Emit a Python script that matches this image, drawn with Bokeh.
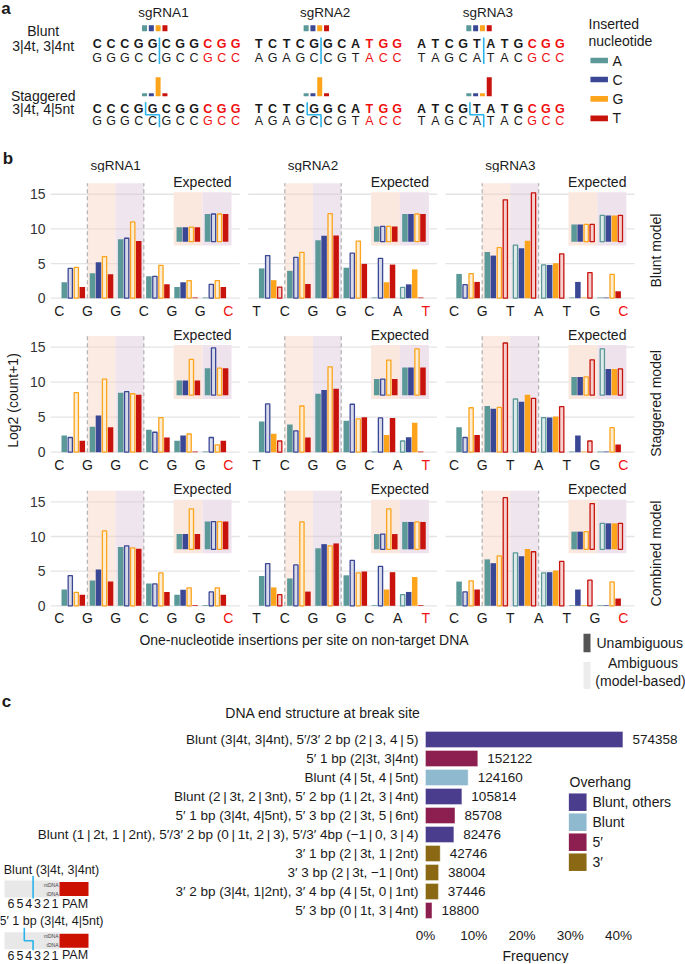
import math
from bokeh.plotting import figure
from bokeh.models import ColumnDataSource, Range1d, FixedTicker
from bokeh.layouts import column
from bokeh.core.properties import value
from bokeh.embed import file_html
from bokeh.resources import INLINE

# ======================= DATA =======================
nucleotides = ["A", "C", "G", "T"]
sgrna_names = ["sgRNA1", "sgRNA2", "sgRNA3"]

# ---- panel a ----
target_top = ["CCCGGCGGCGG", "TCTCGGCATGG", "ATCGTATGCGG"]
target_bottom = ["GGGCCGCCGCC", "AGAGCCGTACC", "TAGCATACGCC"]
pam_length = 3
cut_models = ["Blunt", "Staggered"]
cut_model_sub = ["3|4t, 3|4nt", "3|4t, 4|5nt"]
cut_after_top = [5, 4]       # nt of non-target strand left of the cut
cut_after_bottom = [5, 5]    # nt of target strand left of the cut
blunt_inserted = [[0.25, 0.25, 0.25, 0.25],
                  [0.25, 0.25, 0.25, 0.25],
                  [0.25, 0.25, 0.25, 0.25]]
staggered_inserted = [[0.12, 0.12, 0.79, 0.12],
                      [0.12, 0.12, 0.79, 0.12],
                      [0.12, 0.12, 0.12, 0.79]]

# ---- panel b ----
site_letters = ["CGGCGGC", "TCGGCAT", "CGTATGC"]
model_names = ["Blunt model", "Staggered model", "Combined model"]
# log2(count+1) per [sgRNA][site][A,C,G,T]
blunt_log2 = [
    [[2.3, 4.3, 4.45, 1.6], [3.6, 5.2, 6.0, 3.45], [8.5, 8.65, 11.0, 8.25],
     [3.15, 3.15, 4.75, 2.0], [1.6, 2.3, 2.55, 0.1], [0.1, 2.0, 2.55, 1.6]],
    [[4.3, 6.15, 2.6, 1.6], [3.95, 5.9, 6.6, 2.05], [8.35, 9.0, 12.2, 9.05],
     [4.4, 6.5, 8.25, 4.95], [0.1, 5.75, 2.3, 4.85], [1.55, 2.0, 4.15, 0.1]],
    [[3.5, 1.95, 3.55, 2.35], [6.65, 6.15, 7.3, 14.2], [7.65, 7.2, 8.3, 15.2],
     [4.8, 4.8, 5.05, 6.4], [0.1, 2.35, 0.1, 3.7], [0.1, 0.1, 3.45, 1.0]],
]
staggered_log2 = [
    [[2.4, 2.1, 8.5, 1.65], [3.65, 5.25, 10.45, 3.55], [8.5, 8.65, 8.35, 8.2],
     [3.2, 2.85, 4.95, 2.1], [1.65, 2.4, 2.6, 0.1], [0.1, 2.1, 1.05, 1.65]],
    [[4.4, 6.9, 2.65, 1.6], [3.95, 3.05, 6.6, 2.1], [8.35, 8.9, 12.2, 9.05],
     [4.5, 6.85, 4.75, 5.0], [0.1, 4.9, 2.45, 4.9], [1.6, 2.15, 4.2, 0.1]],
    [[3.55, 2.1, 6.35, 2.45], [6.6, 6.2, 6.4, 15.6], [7.6, 7.2, 8.2, 7.7],
     [4.95, 4.95, 5.1, 6.5], [0.1, 2.4, 0.1, 1.6], [0.1, 0.1, 3.5, 1.1]],
]
combined_log2 = [
    [[2.35, 4.35, 1.95, 1.6], [3.65, 5.25, 10.8, 3.5], [8.5, 8.65, 8.35, 8.25],
     [3.2, 3.15, 4.75, 2.0], [1.6, 2.3, 2.6, 0.1], [0.1, 2.0, 2.6, 1.6]],
    [[4.3, 6.1, 2.65, 1.6], [3.95, 5.9, 12.1, 2.05], [8.3, 8.9, 8.65, 9.0],
     [4.4, 6.55, 4.75, 4.95], [0.1, 5.7, 2.35, 4.85], [1.6, 2.0, 4.15, 0.1]],
    [[3.5, 2.0, 3.6, 2.35], [6.7, 6.15, 7.2, 15.6], [7.65, 7.15, 8.2, 7.8],
     [4.75, 4.85, 5.1, 6.4], [0.1, 2.35, 0.1, 3.7], [0.1, 0.1, 3.45, 1.05]],
]
# 1 = ambiguous (model-based), 0 = unambiguous
ambiguous = [
    [[0, 1, 1, 0], [0, 0, 1, 0], [0, 1, 1, 0], [0, 1, 1, 0], [0, 0, 1, 0], [0, 1, 1, 0]],
    [[0, 1, 0, 1], [0, 1, 1, 0], [0, 0, 1, 0], [0, 1, 1, 0], [0, 1, 0, 0], [1, 0, 0, 0]],
    [[0, 1, 1, 0], [0, 0, 1, 1], [1, 0, 0, 1], [1, 0, 0, 1], [0, 0, 0, 1], [0, 0, 1, 0]],
]
expected_sites = [1, 2]   # the two shaded sites shown in the "Expected" insets
# expected bar heights per [sgRNA][shaded site][A,C,G,T]
expected_blunt = [
    [[2.1, 2.1, 2.1, 2.1], [4.0, 4.0, 4.0, 4.0]],
    [[2.2, 2.2, 2.2, 2.2], [4.0, 4.0, 4.0, 4.0]],
    [[2.5, 2.5, 2.5, 2.5], [3.8, 3.8, 3.8, 3.8]],
]
expected_staggered = [
    [[2.1, 2.1, 5.1, 2.1], [3.85, 6.75, 3.85, 3.85]],
    [[2.3, 2.3, 5.0, 2.3], [3.95, 3.95, 6.6, 3.95]],
    [[2.6, 2.6, 2.6, 5.05], [6.6, 3.75, 3.75, 3.75]],
]
expected_combined = [
    [[2.2, 2.2, 5.85, 2.2], [4.0, 4.0, 4.0, 4.0]],
    [[2.2, 2.2, 5.85, 2.2], [3.95, 3.95, 3.95, 3.95]],
    [[2.55, 2.55, 2.55, 6.6], [3.75, 3.75, 3.75, 3.75]],
]
y_ticks_b = [0, 5, 10, 15]

# ---- panel c ----
end_structures = [
    "Blunt (3|4t, 3|4nt), 5\u2032/3\u2032 2 bp (2\u2009|\u20093, 4\u2009|\u20095)",
    "5\u2032 1 bp (2|3t, 3|4nt)",
    "Blunt (4\u2009|\u20095t, 4\u2009|\u20095nt)",
    "Blunt (2\u2009|\u20093t, 2\u2009|\u20093nt), 5\u2032 2 bp (1\u2009|\u20092t, 3\u2009|\u20094nt)",
    "5\u2032 1 bp (3|4t, 4|5nt), 5\u2032 3 bp (2\u2009|\u20093t, 5\u2009|\u20096nt)",
    "Blunt (1\u2009|\u20092t, 1\u2009|\u20092nt), 5\u2032/3\u2032 2 bp (0\u2009|\u20091t, 2\u2009|\u20093), 5\u2032/3\u2032 4bp (\u22121\u2009|\u20090, 3\u2009|\u20094)",
    "3\u2032 1 bp (2\u2009|\u20093t, 1\u2009|\u20092nt)",
    "3\u2032 3 bp (2\u2009|\u20093t, \u22121\u2009|\u20090nt)",
    "3\u2032 2 bp (3|4t, 1|2nt), 3\u2032 4 bp (4\u2009|\u20095t, 0\u2009|\u20091nt)",
    "5\u2032 3 bp (0\u2009|\u20091t, 3\u2009|\u20094nt)",
]
end_counts = [574358, 152122, 124160, 105814, 85708, 82476, 42746, 38004, 37446, 18800]
end_overhang = ["Blunt, others", "5\u2032", "Blunt", "Blunt, others", "5\u2032",
                "Blunt, others", "3\u2032", "3\u2032", "3\u2032", "5\u2032"]
total_reads = 1404000          # estimated total of all end structures
overhang_types = ["Blunt, others", "Blunt", "5\u2032", "3\u2032"]
freq_ticks = [0.0, 0.1, 0.2, 0.3, 0.4]
diagram_titles = ["Blunt (3|4t, 3|4nt)", "5\u2032 1 bp (3|4t, 4|5nt)"]
diagram_cut_nt = [3, 4]     # cut between positions d | d+1 on ntDNA
diagram_cut_t = [3, 3]      # cut between positions d | d+1 on tDNA
diagram_positions = ["6", "5", "4", "3", "2", "1"]

# ======================= STYLE / LAYOUT =======================
W = 685
S = 1.0
FONT = "Liberation Sans"
INK = "#1a1a1a"
RED_TXT = "#f01010"
CUT = "#2ab4ea"
NT_COLORS = ["#5b9898", "#3a4795", "#fca41c", "#c8120c"]
OVERHANG_COLORS = {"Blunt, others": "#4a3d8e", "Blunt": "#8fb9cf",
                   "5\u2032": "#8c1f4f", "3\u2032": "#8b6914"}
SHADE = ["#f6d3c2", "#dcc6dc"]
INSET = ["#fae7de", "#eee2ed"]


def tint(c, f=0.2):
    r, g, b = int(c[1:3], 16), int(c[3:5], 16), int(c[5:7], 16)
    return "#%02x%02x%02x" % tuple(round(255 - f * (255 - v)) for v in (r, g, b))


def add_text(p, xs, ys, texts, size, color=INK, align="center", baseline="middle",
             bold=False, angle=0.0, **kw):
    data = dict(x=list(xs), y=list(ys), t=list(texts))
    if isinstance(color, (list, tuple)):
        data["c"] = list(color)
        col = "c"
    else:
        col = color
    p.text(x="x", y="y", text="t", source=ColumnDataSource(data), text_color=col,
           text_font=value(FONT), text_font_size=value(f"{size * S:.2f}px"),
           text_align=align, text_baseline=baseline,
           text_font_style="bold" if bold else "normal", angle=angle, **kw)


def no_align(p):
    if "frame_align" in p.properties():
        p.frame_align = False


def plain_fig(top_ref, bot_ref):
    p = figure(width=W, height=round((bot_ref - top_ref) * S), output_backend="svg",
               toolbar_location=None, x_range=Range1d(0, 685),
               y_range=Range1d(bot_ref, top_ref), min_border=0, title=None,
               x_axis_location=None, y_axis_location=None)
    p.xgrid.visible = False
    p.ygrid.visible = False
    p.outline_line_color = None
    p.background_fill_color = "white"
    p.border_fill_color = "white"
    no_align(p)
    return p


# ======================= PANEL A =======================
A_TOP, A_BOT = 0, 172
pa = plain_fig(A_TOP, A_BOT)
GS = [96.7, 258.3, 421.0]
LS = 13.83
UNIT = 24.0
BASE = [30.7, 95.7]
pa.extra_y_ranges = {
    "ins0": Range1d((BASE[0] - A_BOT) / UNIT, (BASE[0] - A_TOP) / UNIT),
    "ins1": Range1d((BASE[1] - A_BOT) / UNIT, (BASE[1] - A_TOP) / UNIT),
}
add_text(pa, [5.5], [7.5], ["a"], 17, bold=True)
add_text(pa, [gs + 66.3 for gs in GS], [11.7] * 3, sgrna_names, 13.5)

strand_y = [(43.5, 57.0), (108.3, 120.3)]
label_y = [(30, 45), (95, 108.3)]
for m in range(2):
    add_text(pa, [42.7, 42.7], list(label_y[m]), [cut_models[m], cut_model_sub[m]], 14)
    freqs = blunt_inserted if m == 0 else staggered_inserted
    xs, tops, cols = [], [], []
    for g in range(3):
        c = GS[g] + 4.16 * LS
        for n in range(4):
            xs.append(c + (n - 1.5) * 6.8)
            tops.append(freqs[g][n])
            cols.append(NT_COLORS[n])
    pa.vbar(x=xs, bottom=0, top=tops, width=5, fill_color=cols, line_color=None,
            y_range_name=f"ins{m}")
    for g in range(3):
        for strand, seq, bold in ((0, target_top[g], True), (1, target_bottom[g], False)):
            n_seq = len(seq)
            add_text(pa, [GS[g] + i * LS for i in range(n_seq)], [strand_y[m][strand]] * n_seq,
                     list(seq), 12.5, bold=bold,
                     color=[RED_TXT if i >= n_seq - pam_length else INK for i in range(n_seq)])
        xt = GS[g] + (cut_after_top[m] - 0.5) * LS
        xb = GS[g] + (cut_after_bottom[m] - 0.5) * LS
        yt, yb = strand_y[m]
        ymid = (yt + yb) / 2
        pa.line([xt, xt, xb, xb], [yt - 6.5, ymid, ymid, yb + 6.5], line_color=CUT, line_width=1.6)

add_text(pa, [588, 588], [23, 40], ["Inserted", "nucleotide"], 14, align="left")
leg_y = [60, 79, 98.3, 117.8]
pa.rect(x=[598.7] * 4, y=leg_y, width=17.5, height=5.7, fill_color=NT_COLORS, line_color=None)
add_text(pa, [612] * 4, leg_y, nucleotides, 14, align="left")

# panel b header lives in the same strip
K0, DK = 58.7, 28.2
add_text(pa, [7.5], [158], ["b"], 17, bold=True)
add_text(pa, [K0 + DK * (7 * g + 2) for g in range(3)], [165] * 3, sgrna_names, 13.5)

# ======================= PANEL B =======================
ROWS = [(172, 322, 297.7, 6.93), (322, 478, 451.7, 7.0), (478, 628, 605.3, 6.93)]
model_values = [blunt_log2, staggered_log2, combined_log2]
model_expected = [expected_blunt, expected_staggered, expected_combined]
OFF = [-0.32, -0.107, 0.107, 0.32]
BW = 0.196
SHADE_TOP = 16.6
INSET_BOX = (7.6, 15.3)
INSET_BASE = 8.15


def bars(p, xs, bottoms, tops, nts, amb):
    f = [i for i in range(len(xs)) if not amb[i]]
    h = [i for i in range(len(xs)) if amb[i]]
    p.vbar(x=[xs[i] for i in f], bottom=[bottoms[i] for i in f], top=[tops[i] for i in f],
           width=BW, fill_color=[NT_COLORS[nts[i]] for i in f], line_color=None)
    p.vbar(x=[xs[i] for i in h], bottom=[bottoms[i] for i in h], top=[tops[i] for i in h],
           width=BW - 0.045, fill_color=[tint(NT_COLORS[nts[i]]) for i in h],
           line_color=[NT_COLORS[nts[i]] for i in h], line_width=1.3)


row_figs = []
for r in range(3):
    top_ref, bot_ref, zero_ref, ppu = ROWS[r]
    p = figure(width=W, height=round((bot_ref - top_ref) * S), output_backend="svg",
               toolbar_location=None,
               x_range=Range1d((48 - K0) / DK, (685 - K0) / DK),
               y_range=Range1d(-(bot_ref - zero_ref) / ppu, (zero_ref - top_ref) / ppu),
               min_border=0, min_border_left=round(48 * S), title=None,
               x_axis_location=None, y_axis_location="left")
    p.xgrid.visible = False
    p.ygrid.visible = False
    p.outline_line_color = None
    p.background_fill_color = "white"
    p.border_fill_color = "white"
    no_align(p)
    ax = p.yaxis[0]
    ax.ticker = FixedTicker(ticks=y_ticks_b)
    ax.axis_line_color = None
    ax.major_tick_line_color = None
    ax.minor_tick_line_color = None
    ax.major_tick_out = 0
    ax.major_tick_in = 0
    ax.major_label_standoff = 3
    ax.major_label_text_font = FONT
    ax.major_label_text_font_size = f"{14 * S:.2f}px"
    ax.major_label_text_color = "#333333"
    if r == 1:
        ax.axis_label = "Log2 (count+1)"
        ax.axis_label_text_font = FONT
        ax.axis_label_text_font_style = "normal"
        ax.axis_label_text_font_size = f"{14 * S:.2f}px"
        ax.axis_label_text_color = INK
        ax.axis_label_standoff = 6

    vals = model_values[r]
    exps = model_expected[r]
    # grid segments per sgRNA
    gx0, gx1, gy = [], [], []
    for g in range(3):
        for t in y_ticks_b:
            gx0.append(7 * g - 0.3)
            gx1.append(7 * g + 6.4)
            gy.append(t)
    p.segment(x0=gx0, y0=gy, x1=gx1, y1=gy, line_color="#e4e4e4", line_width=1.3)
    # shaded cut-site windows
    p.quad(left=[7 * g + s for g in range(3) for s in expected_sites],
           right=[7 * g + s + 1 for g in range(3) for s in expected_sites],
           bottom=0, top=SHADE_TOP, fill_color=SHADE * 3, fill_alpha=0.45, line_color=None)
    p.segment(x0=[7 * g + s for g in range(3) for s in (1, 3)], y0=0,
              x1=[7 * g + s for g in range(3) for s in (1, 3)], y1=SHADE_TOP,
              line_color="#b5b5b5", line_width=1.3, line_dash="4 3")
    # insets
    p.quad(left=[7 * g + 4.06 + c * 1.02 for g in range(3) for c in range(2)],
           right=[7 * g + 5.08 + c * 1.03 for g in range(3) for c in range(2)],
           bottom=INSET_BOX[0], top=INSET_BOX[1], fill_color=INSET * 3, line_color=None)
    xs, bs, ts, nts, am = [], [], [], [], []
    for g in range(3):
        for c in range(2):
            for n in range(4):
                xs.append(7 * g + 4.58 + c + OFF[n])
                bs.append(INSET_BASE)
                ts.append(INSET_BASE + exps[g][c][n])
                nts.append(n)
                am.append(ambiguous[g][expected_sites[c]][n])
    bars(p, xs, bs, ts, nts, am)
    add_text(p, [7 * g + 5.08 for g in range(3)], [16.8] * 3, ["Expected"] * 3, 14)
    # main bars
    xs, bs, ts, nts, am = [], [], [], [], []
    for g in range(3):
        for j in range(6):
            for n in range(4):
                xs.append(7 * g + j + 0.5 + OFF[n])
                bs.append(0)
                ts.append(vals[g][j][n])
                nts.append(n)
                am.append(ambiguous[g][j][n])
    bars(p, xs, bs, ts, nts, am)
    # site letters
    lx, lt, lc = [], [], []
    for g in range(3):
        for i, ch in enumerate(site_letters[g]):
            lx.append(7 * g + i)
            lt.append(ch)
            lc.append(RED_TXT if i == len(site_letters[g]) - 1 else INK)
    add_text(p, lx, [-12.5 / ppu] * len(lx), lt, 14, color=lc)
    mid = (zero_ref - [250, 403, 553][r]) / ppu
    add_text(p, [(655 - K0) / DK], [mid], [model_names[r]], 14, angle=math.pi / 2)
    row_figs.append(p)

# ---- panel b footer: x label + legend ----
L_TOP, L_BOT = 628, 692
pl = plain_fig(L_TOP, L_BOT)
add_text(pl, [303.5], [639], ["One-nucleotide insertions per site on non-target DNA"], 14)
pl.rect(x=[586.5, 586.5], y=[642.5, 675], width=7, height=[18.5, 27],
        fill_color=["#555555", "#ececec"], line_color=None)
add_text(pl, [596], [642.5], ["Unambiguous"], 14, align="left")
add_text(pl, [642.5, 640], [662.5, 680.5], ["Ambiguous", "(model-based)"], 14)

# ======================= PANEL C =======================
C_TOP, C_BOT = 692, 963
pc = plain_fig(C_TOP, C_BOT)
X0, XU = 425.0, 482.5          # 0% position and px per 100%
R0, RS = 739.0, 19.0           # first row centre and row pitch
pc.extra_x_ranges = {"freq": Range1d((0 - X0) / XU, (685 - X0) / XU)}
pc.extra_y_ranges = {"rows": Range1d((C_BOT - R0) / RS, (C_TOP - R0) / RS)}
add_text(pc, [6], [701], ["c"], 17, bold=True)
add_text(pc, [322.5], [712], ["DNA end structure at break site"], 14)
rows = list(range(len(end_counts)))
freqs = [c / total_reads for c in end_counts]
pc.hbar(y=rows, left=0, right=freqs, height=0.84,
        fill_color=[OVERHANG_COLORS[o] for o in end_overhang],
        line_color="white", line_width=0.6, line_alpha=0.6,
        x_range_name="freq", y_range_name="rows")
add_text(pc, [f + 9.5 / XU for f in freqs], rows, [str(c) for c in end_counts], 13.5,
         align="left", x_range_name="freq", y_range_name="rows")
add_text(pc, [-7 / XU] * len(rows), rows, end_structures, 13.5, align="right",
         x_range_name="freq", y_range_name="rows")
add_text(pc, freq_ticks, [935] * len(freq_ticks),
         [f"{round(t * 100)}%" for t in freq_ticks], 13.5, x_range_name="freq")
add_text(pc, [535], [955.5], ["Frequency"], 14)
# legend
add_text(pc, [569], [781.7], ["Overhang"], 14, align="left")
ly = [801.7 + 20 * i for i in range(len(overhang_types))]
pc.rect(x=[577.2] * 4, y=ly, width=17.7, height=17.5,
        fill_color=[OVERHANG_COLORS[o] for o in overhang_types], line_color=None)
add_text(pc, [592] * 4, ly, overhang_types, 14, align="left")
# break-site diagrams
for d in range(2):
    ty = [869, 920.7][d]
    bt = ty + 11
    add_text(pc, [51], [ty], [diagram_titles[d]], 12.5)
    pc.quad(left=4, right=59, top=bt, bottom=bt + 17, fill_color="#e8e8e8", line_color=None)
    pc.quad(left=59, right=88, top=bt + 1.5, bottom=bt + 15.5, fill_color="#cc1100", line_color=None)
    add_text(pc, [58, 58], [bt + 4, bt + 13], ["ntDNA", "tDNA"], 5, align="right", color="#444444")
    xn = 59 - 8.8 * diagram_cut_nt[d]
    xt = 59 - 8.8 * diagram_cut_t[d]
    pc.line([xn, xn, xt, xt], [bt - 4.5, bt + 8.5, bt + 8.5, bt + 18], line_color=CUT, line_width=1.6)
    add_text(pc, [59 - 8.8 * (int(ch) - 0.5) for ch in diagram_positions] + [74.5],
             [bt + 23] * 7, diagram_positions + ["PAM"], 12.5)

layout = column(pa, *row_figs, pl, pc, spacing=0)
open("out.html", "w").write(file_html(layout, INLINE))
